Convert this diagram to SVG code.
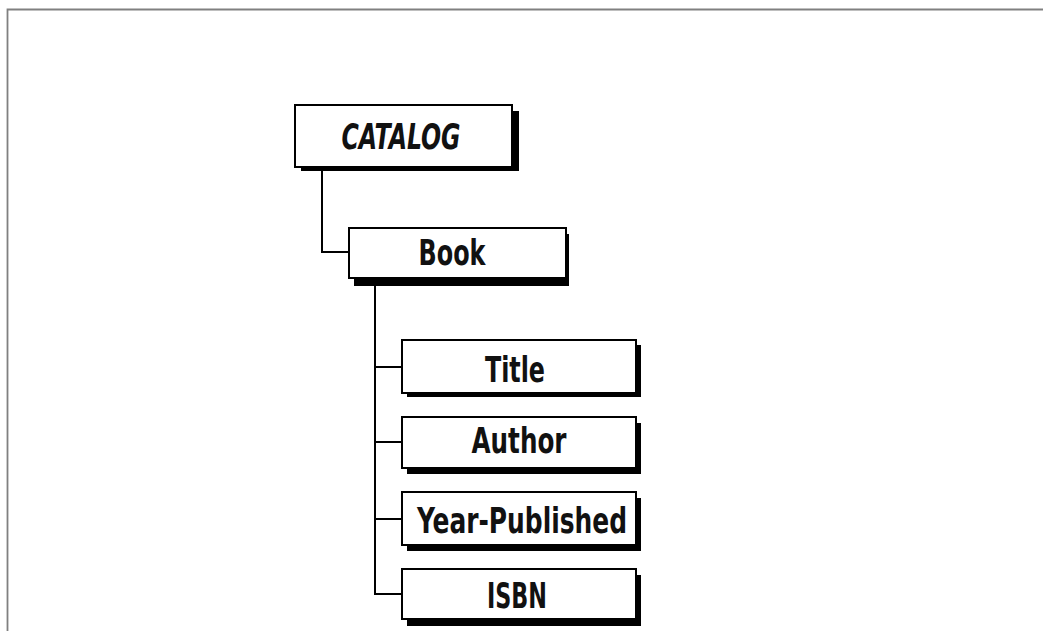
<svg xmlns="http://www.w3.org/2000/svg" width="1043" height="631" viewBox="0 0 1043 631">
<style>
.box{fill:#fff;stroke:#000;stroke-width:2}
.sh{fill:#000}
.lbl{font-family:"DejaVu Sans Condensed","DejaVu Sans",sans-serif;font-weight:bold;font-size:36px;fill:#111;text-anchor:middle}
.conn{fill:none;stroke:#000;stroke-width:2}
</style>
<rect width="1043" height="631" fill="#fff"/>
<path d="M7.5 631 V9.5 H1043" fill="none" stroke="#808080" stroke-width="1.8"/>
<g id="connectors">
<path class="conn" d="M322 168 V252 H349"/>
<path class="conn" d="M375 284 V594 H402"/>
<path class="conn" d="M375 367 H402"/>
<path class="conn" d="M375 442 H402"/>
<path class="conn" d="M375 519 H402"/>
</g>
<g id="catalog">
<rect class="sh" x="301" y="111" width="218" height="60"/>
<rect class="box" x="295" y="105" width="217" height="62"/>
<text class="lbl" x="401" y="149" font-style="italic" textLength="119" lengthAdjust="spacingAndGlyphs">CATALOG</text>
</g>
<g id="book">
<rect class="sh" x="354" y="234" width="215" height="52"/>
<rect class="box" x="349" y="228" width="217" height="50"/>
<text class="lbl" x="452" y="265" textLength="67" lengthAdjust="spacingAndGlyphs">Book</text>
</g>
<g id="title">
<rect class="sh" x="407" y="345" width="234" height="52"/>
<rect class="box" x="402" y="340" width="234" height="53"/>
<text class="lbl" x="515" y="382" textLength="60" lengthAdjust="spacingAndGlyphs">Title</text>
</g>
<g id="author">
<rect class="sh" x="407" y="423" width="234" height="51"/>
<rect class="box" x="402" y="417" width="234" height="51"/>
<text class="lbl" x="519" y="453" textLength="95" lengthAdjust="spacingAndGlyphs">Author</text>
</g>
<g id="year-published">
<rect class="sh" x="407" y="498" width="234" height="53"/>
<rect class="box" x="402" y="492" width="234" height="53"/>
<text class="lbl" x="522" y="533" textLength="210" lengthAdjust="spacingAndGlyphs">Year-Published</text>
</g>
<g id="isbn">
<rect class="sh" x="407" y="575" width="234" height="51"/>
<rect class="box" x="402" y="569" width="234" height="50"/>
<text class="lbl" x="517" y="608" textLength="60" lengthAdjust="spacingAndGlyphs">ISBN</text>
</g>
</svg>
